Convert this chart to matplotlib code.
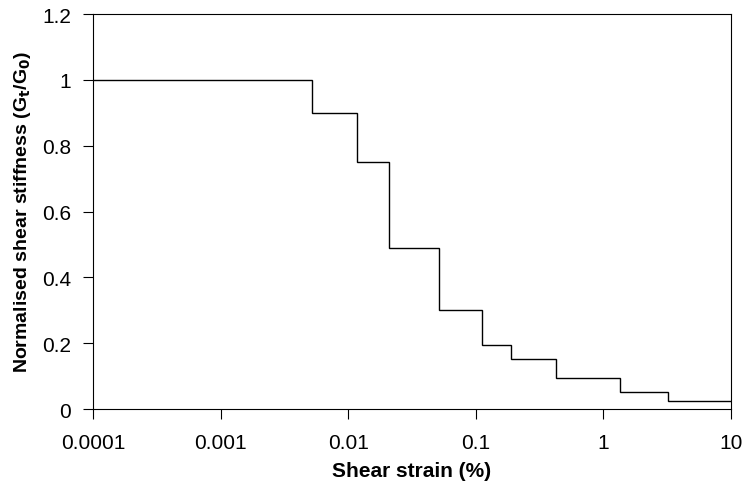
import numpy as np
import matplotlib.pyplot as plt

plt.rcParams['font.family'] = ['Liberation Sans', 'DejaVu Sans']

# strain bin edges (%) and normalised stiffness for each bin
strain_edges = [0.0001, 0.0052, 0.0117, 0.0209, 0.0514, 0.112, 0.189, 0.425, 1.35, 3.2, 10]
stiffness = [1.0, 0.9, 0.75, 0.49, 0.30, 0.195, 0.152, 0.094, 0.052, 0.024]

x_ticks = [0.0001, 0.001, 0.01, 0.1, 1, 10]
x_labels = ['0.0001', '0.001', '0.01', '0.1', '1', '10']
y_ticks = [0, 0.2, 0.4, 0.6, 0.8, 1, 1.2]
y_labels = ['0', '0.2', '0.4', '0.6', '0.8', '1', '1.2']

fig = plt.figure(figsize=(7.44, 4.85), dpi=100)
ax = fig.add_axes([0.125, 0.1546, 0.8575, 0.8144])

ax.stairs(stiffness, strain_edges, baseline=None, color='black', linewidth=1.0)

ax.set_xscale('log')
ax.set_xlim(0.0001, 10)
ax.set_ylim(0, 1.2)
ax.set_xticks(x_ticks)
ax.set_xticklabels(x_labels)
ax.minorticks_off()
ax.set_yticks(y_ticks)
ax.set_yticklabels(y_labels)
ax.tick_params(axis='x', direction='out', length=7, width=0.8, labelsize=15, pad=10)
ax.tick_params(axis='y', direction='out', length=7, width=0.8, labelsize=15, pad=9)

for s in ax.spines.values():
    s.set_linewidth(0.8)

ax.set_xlabel('Shear strain (%)', fontsize=15, fontweight='bold', labelpad=7)
ax.set_ylabel('Normalised shear stiffness (G$_\\mathbf{t}$/G$_\\mathbf{0}$)',
              fontsize=14, fontweight='bold', labelpad=6)

fig.savefig('out.png', dpi=100)
